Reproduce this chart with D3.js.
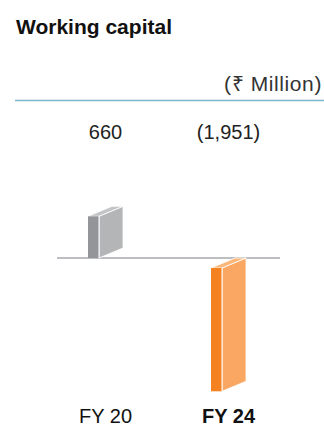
<!DOCTYPE html>
<html>
<head>
<meta charset="utf-8">
<script src="https://cdn.jsdelivr.net/npm/d3@7"></script>
<style>
  html, body { margin: 0; padding: 0; background: #fff; }
  svg { display: block; font-family: "Liberation Sans", Arial, Helvetica, sans-serif; }
</style>
</head>
<body>
<svg id="chart" width="324" height="426"></svg>
<script>
// Working capital, ₹ Million
const categories = ["FY 20", "FY 24"];
const values = [660, -1951];
const valueLabels = ["660", "(1,951)"];
const highlight = [false, true];

const W = 324, H = 426;
const svg = d3.select("#chart");

const frontColors = ["#939598", "#f58220"];
const sideColors = ["#b3b5b7", "#f9a762"];
const topColors = ["#c2c4c6", "#fbb779"];

// Title and unit
svg.append("text")
  .attr("x", 16).attr("y", 34)
  .attr("font-size", 21).attr("font-weight", "bold")
  .attr("fill", "#111")
  .text("Working capital");

svg.append("text")
  .attr("x", 322).attr("y", 91)
  .attr("text-anchor", "end")
  .attr("font-size", 21)
  .attr("letter-spacing", 0.6)
  .attr("fill", "#333")
  .text("(₹ Million)");

svg.append("line")
  .attr("x1", 15).attr("x2", W)
  .attr("y1", 100.5).attr("y2", 100.5)
  .attr("stroke", "#7ab7ca").attr("stroke-width", 1.6);

// Scales
const x = d3.scalePoint().domain(categories).range([44, 290]).padding(0.5);
const pxPerUnit = 0.0632;
const zeroY = 258;
const y = d3.scaleLinear()
  .domain([0, 1000])
  .range([zeroY, zeroY - 1000 * pxPerUnit]);

// Bar geometry: front face width and extrusion depth
const frontW = 11, depthX = 24, depthY = 10;

// Baseline
svg.append("line")
  .attr("x1", 57).attr("x2", 280)
  .attr("y1", zeroY).attr("y2", zeroY)
  .attr("stroke", "#a7a9ac").attr("stroke-width", 1.5);

const bars = svg.append("g");
categories.forEach((c, i) => {
  const v = values[i];
  const cx = x(c);
  const x0 = cx - (frontW + depthX) / 2;
  const x1 = x0 + frontW;
  let yTop, yBot;
  if (v >= 0) {
    // front face rests on the baseline
    yTop = y(v); yBot = y(0);
  } else {
    // back face hangs from the baseline
    yTop = y(0) + depthY; yBot = y(v) + depthY;
  }
  const g = bars.append("g");
  // side face
  g.append("polygon")
    .attr("points", [[x1, yTop], [x1 + depthX, yTop - depthY], [x1 + depthX, yBot - depthY], [x1, yBot]].join(" "))
    .attr("fill", sideColors[i]).attr("stroke", "#fff").attr("stroke-width", 0.8).attr("stroke-linejoin", "round");
  // top face
  g.append("polygon")
    .attr("points", [[x0, yTop], [x1, yTop], [x1 + depthX, yTop - depthY], [x0 + depthX, yTop - depthY]].join(" "))
    .attr("fill", topColors[i]).attr("stroke", "#fff").attr("stroke-width", 0.8).attr("stroke-linejoin", "round");
  // front face
  g.append("rect")
    .attr("x", x0).attr("y", yTop)
    .attr("width", frontW).attr("height", yBot - yTop)
    .attr("fill", frontColors[i]);
  g.append("line")
    .attr("x1", x1).attr("x2", x1).attr("y1", yTop).attr("y2", yBot)
    .attr("stroke", "#fff").attr("stroke-width", 1);
});

// Value labels
svg.append("g").selectAll("text")
  .data(categories)
  .join("text")
  .attr("x", d => x(d))
  .attr("y", 139)
  .attr("text-anchor", "middle")
  .attr("font-size", 20)
  .attr("fill", "#222")
  .text((d, i) => valueLabels[i]);

// Category labels
svg.append("g").selectAll("text")
  .data(categories)
  .join("text")
  .attr("x", d => x(d))
  .attr("y", 423)
  .attr("text-anchor", "middle")
  .attr("font-size", 20)
  .attr("font-weight", (d, i) => highlight[i] ? "bold" : "normal")
  .attr("fill", "#111")
  .text(d => d);
</script>
</body>
</html>
